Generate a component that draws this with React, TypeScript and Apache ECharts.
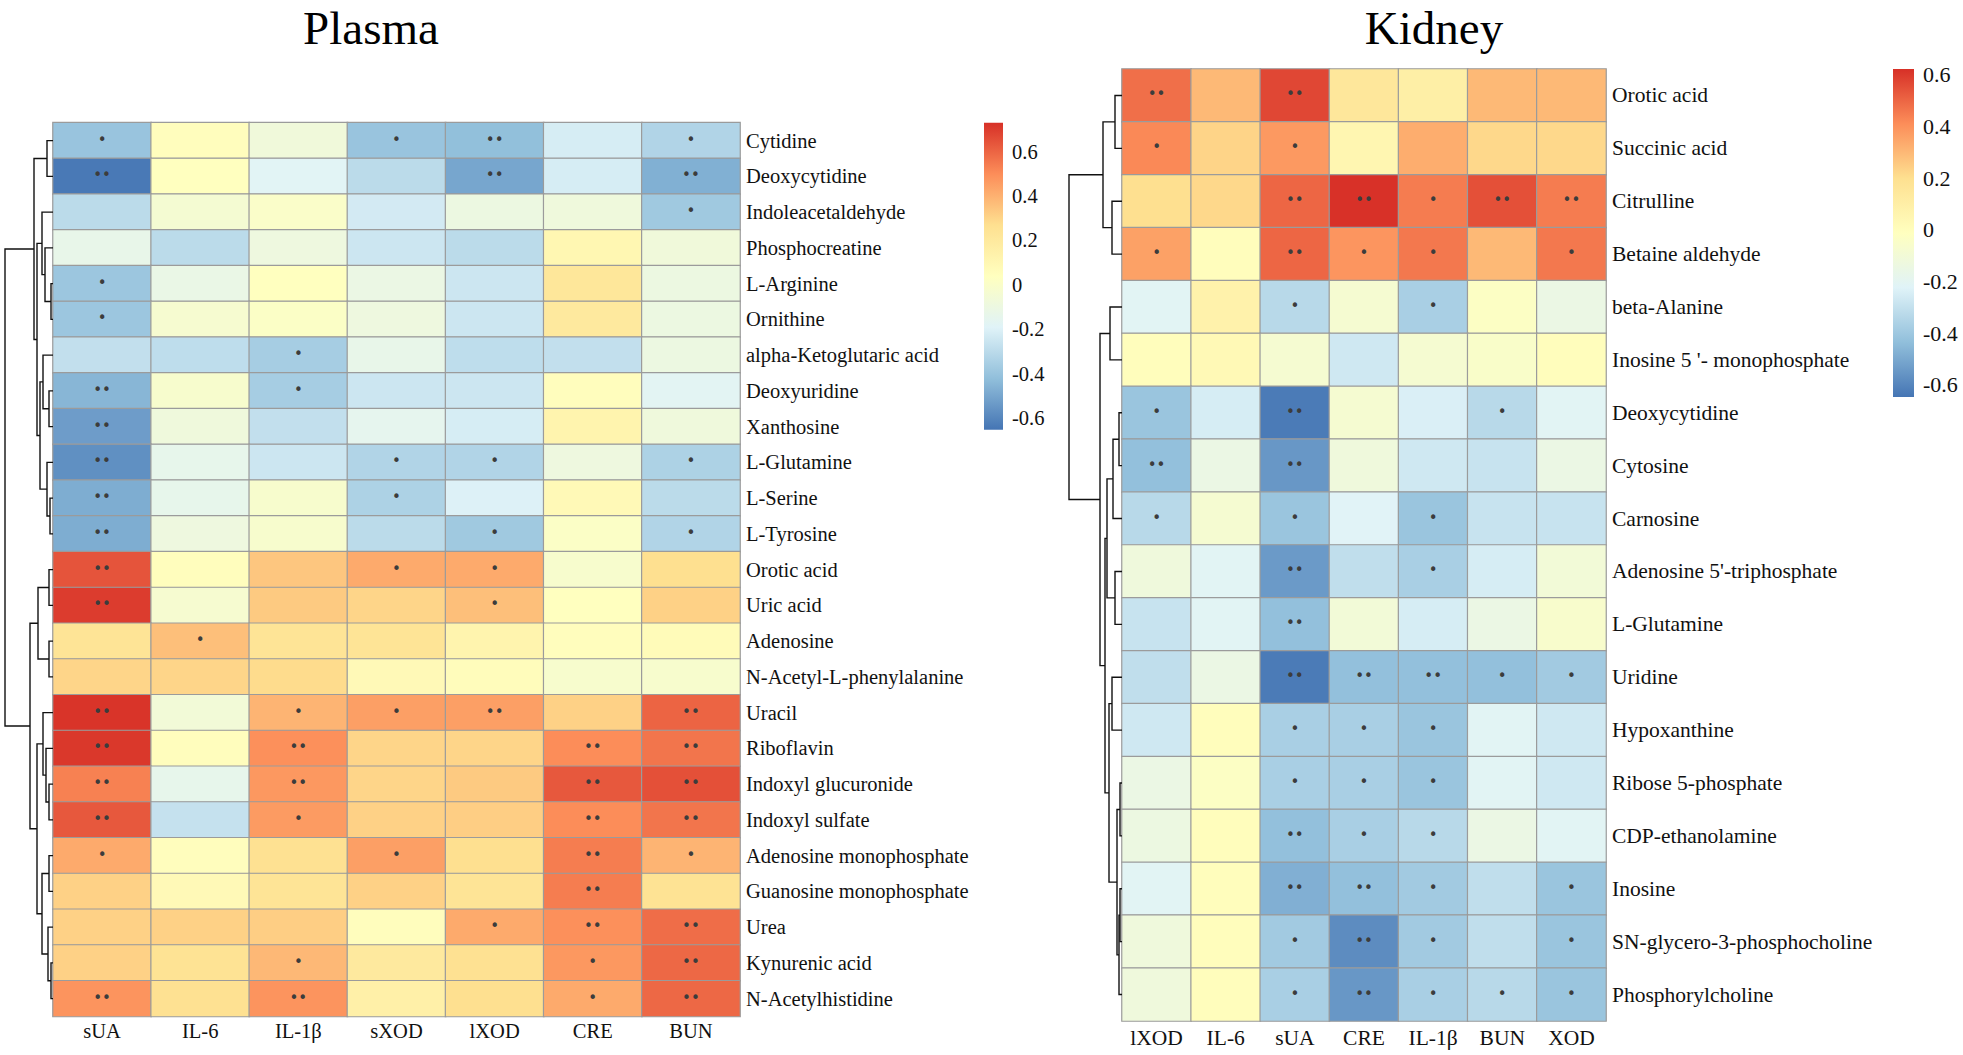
import React, { useEffect, useRef } from 'react';
import * as echarts from 'echarts';

// ---------- data ----------
const palette = ['#4575b4', '#91bfdb', '#e0f3f8', '#ffffbf', '#fee090', '#fc8d59', '#d73027'];
const marks = ['', '•', '••'];
const legendTicks = [-0.6, -0.4, -0.2, 0, 0.2, 0.4, 0.6];

const plasmaCols = ['sUA', 'IL-6', 'IL-1β', 'sXOD', 'lXOD', 'CRE', 'BUN'];
const plasmaRows = [
  'Cytidine', 'Deoxycytidine', 'Indoleacetaldehyde', 'Phosphocreatine', 'L-Arginine', 'Ornithine',
  'alpha-Ketoglutaric acid', 'Deoxyuridine', 'Xanthosine', 'L-Glutamine', 'L-Serine', 'L-Tyrosine',
  'Orotic acid', 'Uric acid', 'Adenosine', 'N-Acetyl-L-phenylalanine', 'Uracil', 'Riboflavin',
  'Indoxyl glucuronide', 'Indoxyl sulfate', 'Adenosine monophosphate', 'Guanosine monophosphate',
  'Urea', 'Kynurenic acid', 'N-Acetylhistidine',
];
const plasmaValues = [
  [-0.40, 0.05, -0.07, -0.40, -0.42, -0.22, -0.33],
  [-0.64, 0.04, -0.18, -0.30, -0.50, -0.22, -0.47],
  [-0.30, -0.04, 0.00, -0.23, -0.10, -0.08, -0.38],
  [-0.13, -0.30, -0.09, -0.25, -0.30, 0.10, -0.07],
  [-0.39, -0.12, 0.04, -0.11, -0.25, 0.22, -0.10],
  [-0.39, -0.03, 0.01, -0.09, -0.25, 0.20, -0.10],
  [-0.28, -0.29, -0.36, -0.13, -0.29, -0.28, -0.10],
  [-0.45, -0.02, -0.36, -0.25, -0.25, 0.05, -0.17],
  [-0.53, -0.08, -0.28, -0.15, -0.22, 0.12, -0.08],
  [-0.57, -0.14, -0.25, -0.33, -0.33, -0.09, -0.34],
  [-0.48, -0.14, -0.02, -0.34, -0.20, 0.08, -0.30],
  [-0.48, -0.09, -0.02, -0.30, -0.38, 0.01, -0.33],
  [0.64, 0.05, 0.34, 0.42, 0.42, -0.02, 0.27],
  [0.70, -0.03, 0.33, 0.30, 0.36, 0.04, 0.31],
  [0.24, 0.36, 0.24, 0.24, 0.12, 0.05, 0.07],
  [0.30, 0.30, 0.28, 0.08, 0.06, -0.02, -0.02],
  [0.72, -0.06, 0.39, 0.45, 0.45, 0.31, 0.60],
  [0.71, 0.05, 0.49, 0.30, 0.30, 0.50, 0.56],
  [0.53, -0.14, 0.47, 0.30, 0.33, 0.63, 0.65],
  [0.63, -0.27, 0.46, 0.31, 0.32, 0.50, 0.56],
  [0.42, 0.05, 0.26, 0.45, 0.27, 0.54, 0.39],
  [0.31, 0.08, 0.24, 0.31, 0.24, 0.54, 0.25],
  [0.31, 0.31, 0.32, 0.05, 0.42, 0.49, 0.58],
  [0.31, 0.25, 0.38, 0.20, 0.26, 0.47, 0.59],
  [0.48, 0.26, 0.48, 0.15, 0.27, 0.42, 0.59],
];
const plasmaSig = [
  [1, 0, 0, 1, 2, 0, 1], [2, 0, 0, 0, 2, 0, 2], [0, 0, 0, 0, 0, 0, 1], [0, 0, 0, 0, 0, 0, 0],
  [1, 0, 0, 0, 0, 0, 0], [1, 0, 0, 0, 0, 0, 0], [0, 0, 1, 0, 0, 0, 0], [2, 0, 1, 0, 0, 0, 0],
  [2, 0, 0, 0, 0, 0, 0], [2, 0, 0, 1, 1, 0, 1], [2, 0, 0, 1, 0, 0, 0], [2, 0, 0, 0, 1, 0, 1],
  [2, 0, 0, 1, 1, 0, 0], [2, 0, 0, 0, 1, 0, 0], [0, 1, 0, 0, 0, 0, 0], [0, 0, 0, 0, 0, 0, 0],
  [2, 0, 1, 1, 2, 0, 2], [2, 0, 2, 0, 0, 2, 2], [2, 0, 2, 0, 0, 2, 2], [2, 0, 1, 0, 0, 2, 2],
  [1, 0, 0, 1, 0, 2, 1], [0, 0, 0, 0, 0, 2, 0], [0, 0, 0, 0, 1, 2, 2], [0, 0, 1, 0, 0, 1, 2],
  [2, 0, 2, 0, 0, 1, 2],
];
const plasmaRange = [-0.653, 0.73];
// merges: [childA, childB, height]; >=0 leaf row, -k = merge k (1-based)
const plasmaMerges = [
  [0, 1, 6], [4, 5, 2], [3, -2, 8], [2, -3, 11], [7, 8, 4], [6, -5, 10], [10, 11, 3], [9, -7, 6],
  [-6, -8, 13], [-4, -9, 16], [-1, -10, 19], [12, 13, 4], [14, 15, 4], [-12, -13, 15], [18, 19, 4],
  [17, -15, 7], [16, -16, 10], [20, 21, 4], [23, 24, 2], [22, -19, 5], [-18, -20, 11], [-17, -21, 16],
  [-14, -22, 23], [-11, -23, 48],
];

const kidneyCols = ['lXOD', 'IL-6', 'sUA', 'CRE', 'IL-1β', 'BUN', 'XOD'];
const kidneyRows = [
  'Orotic acid', 'Succinic acid', 'Citrulline', 'Betaine aldehyde', 'beta-Alanine',
  "Inosine 5 '- monophosphate", 'Deoxycytidine', 'Cytosine', 'Carnosine', "Adenosine 5'-triphosphate",
  'L-Glutamine', 'Uridine', 'Hypoxanthine', 'Ribose 5-phosphate', 'CDP-ethanolamine', 'Inosine',
  'SN-glycero-3-phosphocholine', 'Phosphorylcholine',
];
const kidneyValues = [
  [0.48, 0.30, 0.57, 0.15, 0.10, 0.30, 0.30],
  [0.42, 0.23, 0.38, 0.05, 0.33, 0.22, 0.22],
  [0.20, 0.22, 0.50, 0.62, 0.45, 0.55, 0.45],
  [0.36, 0.00, 0.50, 0.39, 0.46, 0.30, 0.46],
  [-0.21, 0.08, -0.33, -0.08, -0.37, -0.03, -0.15],
  [0.00, 0.03, -0.08, -0.27, -0.08, -0.05, 0.00],
  [-0.41, -0.25, -0.63, -0.08, -0.24, -0.33, -0.21],
  [-0.43, -0.15, -0.55, -0.12, -0.27, -0.29, -0.15],
  [-0.33, -0.08, -0.41, -0.22, -0.41, -0.29, -0.29],
  [-0.12, -0.21, -0.54, -0.31, -0.37, -0.25, -0.10],
  [-0.29, -0.21, -0.43, -0.10, -0.25, -0.15, -0.06],
  [-0.31, -0.15, -0.63, -0.43, -0.43, -0.43, -0.39],
  [-0.27, 0.00, -0.37, -0.37, -0.41, -0.21, -0.27],
  [-0.15, -0.03, -0.37, -0.37, -0.41, -0.21, -0.27],
  [-0.14, 0.00, -0.43, -0.37, -0.33, -0.15, -0.21],
  [-0.21, 0.00, -0.48, -0.43, -0.39, -0.31, -0.41],
  [-0.12, 0.00, -0.39, -0.58, -0.39, -0.31, -0.41],
  [-0.12, 0.00, -0.37, -0.55, -0.37, -0.33, -0.41],
];
const kidneySig = [
  [2, 0, 2, 0, 0, 0, 0], [1, 0, 1, 0, 0, 0, 0], [0, 0, 2, 2, 1, 2, 2], [1, 0, 2, 1, 1, 0, 1],
  [0, 0, 1, 0, 1, 0, 0], [0, 0, 0, 0, 0, 0, 0], [1, 0, 2, 0, 0, 1, 0], [2, 0, 2, 0, 0, 0, 0],
  [1, 0, 1, 0, 1, 0, 0], [0, 0, 2, 0, 1, 0, 0], [0, 0, 2, 0, 0, 0, 0], [0, 0, 2, 2, 2, 1, 1],
  [0, 0, 1, 1, 1, 0, 0], [0, 0, 1, 1, 1, 0, 0], [0, 0, 2, 1, 1, 0, 0], [0, 0, 2, 2, 1, 0, 1],
  [0, 0, 1, 2, 1, 0, 1], [0, 0, 1, 2, 1, 1, 1],
];
const kidneyRange = [-0.647, 0.623];
const kidneyMerges = [
  [0, 1, 7], [2, 3, 10], [-1, -2, 19], [4, 5, 12], [6, 7, 3], [-5, 8, 9], [9, 10, 7], [-6, -7, 15],
  [13, 14, 2], [15, 16, 2], [-10, 17, 3], [-9, -11, 5], [11, 12, 10], [-13, -12, 13], [-8, -14, 17],
  [-4, -15, 22], [-3, -16, 53],
];

// ---------- helpers ----------
const SERIF = 'Liberation Serif';

function buildDendro(merges: number[][]) {
  const pos: { h: number; y: number }[] = [];
  const get = (c: number) => (c >= 0 ? { h: 0, y: c } : pos[-c - 1]);
  return merges.map(([a, b, h]) => {
    const A = get(a);
    const B = get(b);
    pos.push({ h, y: (A.y + B.y) / 2 });
    return { coords: [[A.h, A.y], [h, A.y], [h, B.y], [B.h, B.y]] };
  });
}

function heatData(values: number[][]) {
  const out: number[][] = [];
  values.forEach((row, r) => row.forEach((v, c) => out.push([c, r, v])));
  return out;
}

function gradient() {
  const rev = palette.slice().reverse();
  return new echarts.graphic.LinearGradient(0, 0, 0, 1, rev.map((c, i) => ({ offset: i / (rev.length - 1), color: c })));
}

function colorbarSeries(range: number[], idx: number) {
  return {
    type: 'custom',
    xAxisIndex: idx,
    yAxisIndex: idx,
    silent: true,
    data: [[0, 0]],
    renderItem: (params: any, api: any) => {
      const cs = params.coordSys;
      const top = api.coord([0, range[1]]);
      const bot = api.coord([0, range[0]]);
      return {
        type: 'rect',
        shape: { x: cs.x, y: top[1], width: cs.width, height: bot[1] - top[1] },
        style: { fill: gradient() },
      };
    },
  };
}

export default function App() {
  const ref = useRef<HTMLDivElement>(null);

  useEffect(() => {
    if (!ref.current) return;
    const chart = echarts.init(ref.current, undefined, { renderer: 'svg' });

    const P = { left: 53, top: 122.7, width: 687, height: 893.8 };
    const K = { left: 1122, top: 69, width: 484, height: 952 };

    const grids = [
      { ...P },
      { left: 2, top: P.top, width: 51, height: P.height },
      { left: 984, top: 122.7, width: 19, height: 307 },
      { ...K },
      { left: 1064, top: K.top, width: 58, height: K.height },
      { left: 1893, top: 69, width: 21, height: 328 },
    ].map((g) => ({ ...g, containLabel: false, outerBoundsMode: 'none' }));

    const hidden = { show: false };
    const catAxisCommon = {
      axisLine: hidden,
      axisTick: hidden,
      splitLine: hidden,
      splitArea: hidden,
    };

    const xAxis: any[] = [
      { type: 'category', gridIndex: 0, data: plasmaCols, position: 'bottom', ...catAxisCommon,
        axisLabel: { margin: 4, fontFamily: SERIF, fontSize: 20.5, color: '#111' } },
      { type: 'value', gridIndex: 1, min: 0, max: 51, inverse: true, show: false },
      { type: 'category', gridIndex: 2, data: [''], show: false },
      { type: 'category', gridIndex: 3, data: kidneyCols, position: 'bottom', ...catAxisCommon,
        axisLabel: { margin: 6, fontFamily: SERIF, fontSize: 21.5, color: '#111' } },
      { type: 'value', gridIndex: 4, min: 0, max: 58, inverse: true, show: false },
      { type: 'category', gridIndex: 5, data: [''], show: false },
    ];

    const cbLabel = (size: number) => ({
      customValues: legendTicks,
      margin: 9,
      fontFamily: SERIF,
      fontSize: size,
      color: '#111',
      formatter: (v: number) => (Math.abs(v) < 1e-9 ? '0' : v.toFixed(1)),
    });

    const yAxis: any[] = [
      { type: 'category', gridIndex: 0, data: plasmaRows, inverse: true, position: 'right', ...catAxisCommon,
        axisLabel: { margin: 6, fontFamily: SERIF, fontSize: 20.5, color: '#111' } },
      { type: 'value', gridIndex: 1, min: -0.5, max: plasmaRows.length - 0.5, inverse: true, show: false },
      { type: 'value', gridIndex: 2, min: plasmaRange[0], max: plasmaRange[1], position: 'right',
        axisLine: hidden, axisTick: hidden, splitLine: hidden, axisLabel: cbLabel(20.5) },
      { type: 'category', gridIndex: 3, data: kidneyRows, inverse: true, position: 'right', ...catAxisCommon,
        axisLabel: { margin: 6, fontFamily: SERIF, fontSize: 21.5, color: '#111' } },
      { type: 'value', gridIndex: 4, min: -0.5, max: kidneyRows.length - 0.5, inverse: true, show: false },
      { type: 'value', gridIndex: 5, min: kidneyRange[0], max: kidneyRange[1], position: 'right',
        axisLine: hidden, axisTick: hidden, splitLine: hidden, axisLabel: cbLabel(22) },
    ];

    const heatSeries = (idx: number, values: number[][], sig: number[][]) => ({
      type: 'heatmap',
      xAxisIndex: idx,
      yAxisIndex: idx,
      data: heatData(values),
      itemStyle: { borderColor: '#9b9b9b', borderWidth: 1.2 },
      label: {
        show: true,
        formatter: (p: any) => marks[sig[p.value[1]][p.value[0]]],
        color: '#3c3c3c',
        fontSize: 15,
        fontFamily: 'DejaVu Sans',
        offset: [0, -1],
      },
      emphasis: { disabled: true },
      silent: true,
    });

    const dendroSeries = (idx: number, merges: number[][]) => ({
      type: 'lines',
      coordinateSystem: 'cartesian2d',
      xAxisIndex: idx,
      yAxisIndex: idx,
      polyline: true,
      silent: true,
      lineStyle: { color: '#111', width: 1.4, opacity: 1 },
      data: buildDendro(merges),
    });

    const option: any = {
      animation: false,
      backgroundColor: '#ffffff',
      grid: grids,
      xAxis,
      yAxis,
      visualMap: [
        { type: 'continuous', show: false, seriesIndex: 0, dimension: 2, min: plasmaRange[0], max: plasmaRange[1], inRange: { color: palette } },
        { type: 'continuous', show: false, seriesIndex: 3, dimension: 2, min: kidneyRange[0], max: kidneyRange[1], inRange: { color: palette } },
      ],
      graphic: [
        { type: 'text', x: 371, y: 28, style: { text: 'Plasma', fontFamily: SERIF, fontSize: 47, fill: '#000', align: 'center', verticalAlign: 'middle' } },
        { type: 'text', x: 1434, y: 28, style: { text: 'Kidney', fontFamily: SERIF, fontSize: 47, fill: '#000', align: 'center', verticalAlign: 'middle' } },
      ],
      series: [
        heatSeries(0, plasmaValues, plasmaSig),
        dendroSeries(1, plasmaMerges),
        colorbarSeries(plasmaRange, 2),
        heatSeries(3, kidneyValues, kidneySig),
        dendroSeries(4, kidneyMerges),
        colorbarSeries(kidneyRange, 5),
      ],
    };

    chart.setOption(option);
    return () => chart.dispose();
  }, []);

  return (
    <div
      ref={ref}
      style={{ position: 'fixed', left: 0, top: 0, width: 1963, height: 1055, background: '#fff' }}
    />
  );
}
